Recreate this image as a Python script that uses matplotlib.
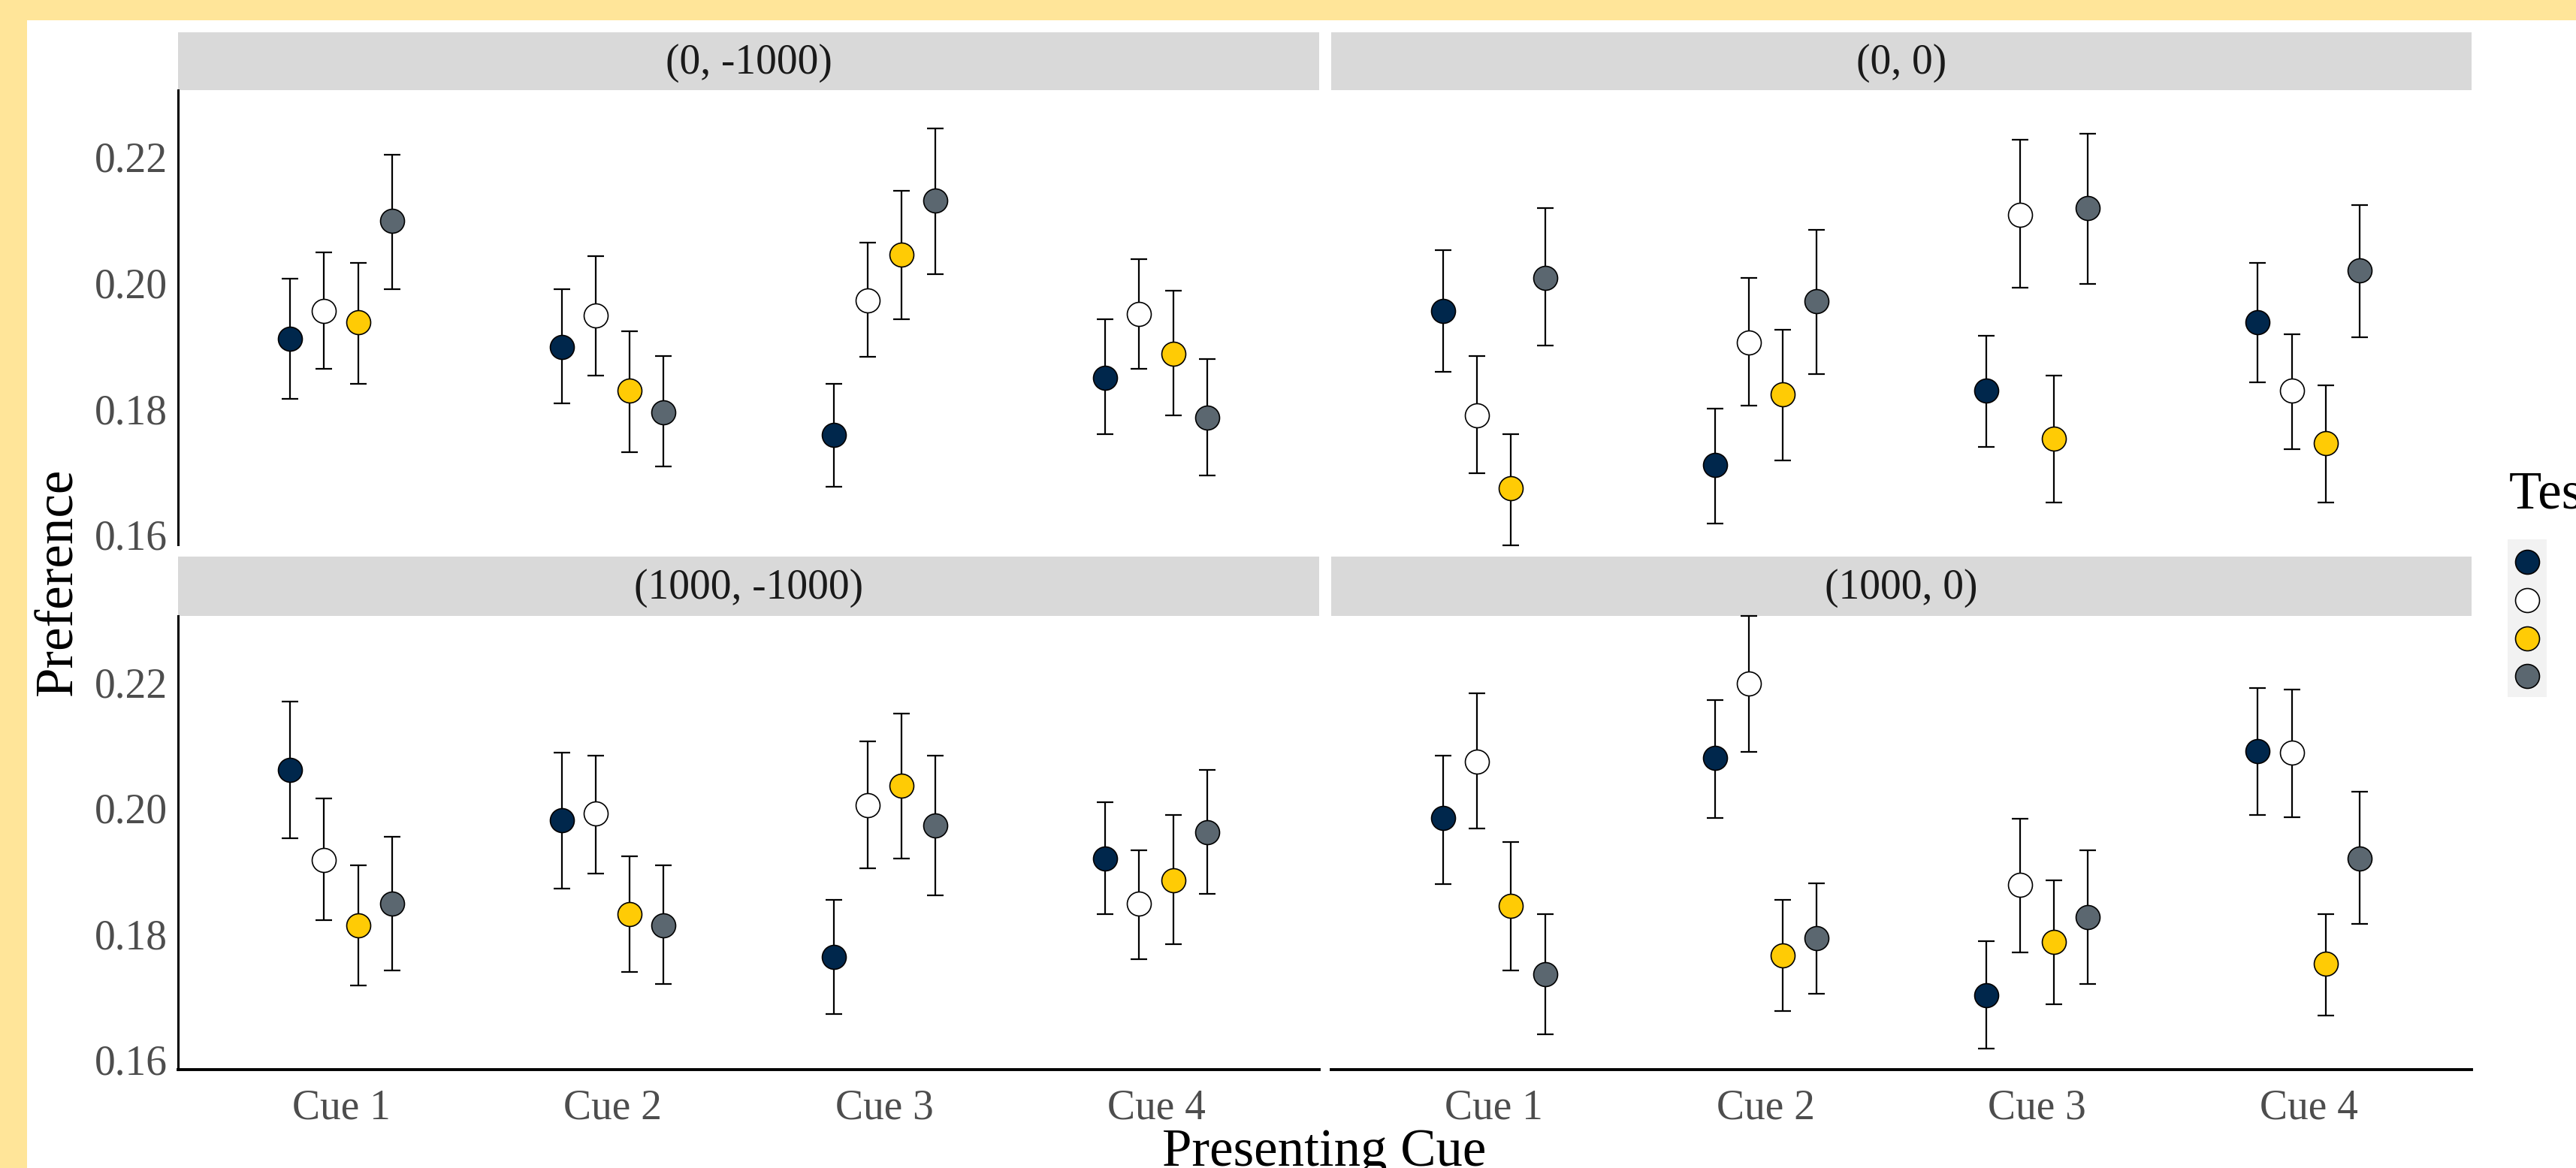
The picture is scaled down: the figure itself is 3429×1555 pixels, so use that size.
"""Preference by presenting cue, faceted by offset condition, coloured by test cue."""
import matplotlib
matplotlib.use("Agg")
import matplotlib.pyplot as plt
from matplotlib.patches import Rectangle
import numpy as np

# ---------------------------------------------------------------------------
# Data (rows = test cue 1..4, columns = presenting cue 1..4)
# ---------------------------------------------------------------------------
presenting_cues = ["Cue 1", "Cue 2", "Cue 3", "Cue 4"]
test_cues = ["1", "2", "3", "4"]
panel_titles = ["(0, -1000)", "(0, 0)", "(1000, -1000)", "(1000, 0)"]

mean_0_m1000 = [[0.1911, 0.1898, 0.1758, 0.1849],
                [0.1955, 0.1948, 0.1972, 0.1950],
                [0.1937, 0.1829, 0.2045, 0.1887],
                [0.2098, 0.1794, 0.2130, 0.1786]]
lo_0_m1000 = [[0.1815, 0.1808, 0.1676, 0.1760],
              [0.1863, 0.1853, 0.1882, 0.1863],
              [0.1839, 0.1731, 0.1942, 0.1789],
              [0.1990, 0.1708, 0.2014, 0.1694]]
hi_0_m1000 = [[0.2006, 0.1990, 0.1839, 0.1942],
              [0.2048, 0.2042, 0.2064, 0.2037],
              [0.2032, 0.1923, 0.2146, 0.1987],
              [0.2203, 0.1884, 0.2245, 0.1879]]

mean_0_0 = [[0.1955, 0.1710, 0.1829, 0.1937],
            [0.1789, 0.1905, 0.2108, 0.1829],
            [0.1673, 0.1823, 0.1752, 0.1745],
            [0.2008, 0.1971, 0.2119, 0.2019]]
lo_0_0 = [[0.1858, 0.1617, 0.1739, 0.1842],
          [0.1697, 0.1805, 0.1992, 0.1736],
          [0.1583, 0.1718, 0.1651, 0.1651],
          [0.1900, 0.1855, 0.1998, 0.1913]]
hi_0_0 = [[0.2052, 0.1800, 0.1916, 0.2032],
          [0.1884, 0.2008, 0.2227, 0.1918],
          [0.1760, 0.1925, 0.1853, 0.1837],
          [0.2119, 0.2084, 0.2237, 0.2124]]

mean_1000_m1000 = [[0.2061, 0.1981, 0.1763, 0.1920],
                   [0.1917, 0.1992, 0.2005, 0.1848],
                   [0.1813, 0.1832, 0.2036, 0.1885],
                   [0.1848, 0.1813, 0.1973, 0.1962]]
lo_1000_m1000 = [[0.1952, 0.1872, 0.1672, 0.1832],
                 [0.1822, 0.1896, 0.1904, 0.1760],
                 [0.1718, 0.1739, 0.1920, 0.1784],
                 [0.1742, 0.1720, 0.1861, 0.1864]]
hi_1000_m1000 = [[0.2170, 0.2088, 0.1854, 0.2010],
                 [0.2016, 0.2084, 0.2106, 0.1933],
                 [0.1909, 0.1923, 0.2151, 0.1989],
                 [0.1954, 0.1909, 0.2084, 0.2061]]

mean_1000_0 = [[0.1984, 0.2080, 0.1702, 0.2091],
               [0.2074, 0.2199, 0.1878, 0.2088],
               [0.1845, 0.1766, 0.1787, 0.1752],
               [0.1736, 0.1793, 0.1827, 0.1920]]
lo_1000_0 = [[0.1879, 0.1984, 0.1617, 0.1989],
             [0.1968, 0.2090, 0.1771, 0.1986],
             [0.1742, 0.1677, 0.1688, 0.1670],
             [0.1640, 0.1705, 0.1720, 0.1816]]
hi_1000_0 = [[0.2084, 0.2172, 0.1789, 0.2191],
             [0.2183, 0.2306, 0.1983, 0.2189],
             [0.1946, 0.1854, 0.1885, 0.1832],
             [0.1832, 0.1880, 0.1933, 0.2026]]

panels = [
    (mean_0_m1000, lo_0_m1000, hi_0_m1000),
    (mean_0_0, lo_0_0, hi_0_0),
    (mean_1000_m1000, lo_1000_m1000, hi_1000_m1000),
    (mean_1000_0, lo_1000_0, hi_1000_0),
]

# ---------------------------------------------------------------------------
# Style
# ---------------------------------------------------------------------------
_COLORS = ["#00274C", "#FFFFFF", "#FFCB05", "#5B6770"]
_FRAME = "#FFE599"
_STRIP = "#D9D9D9"
_TICK_GREY = "#4D4D4D"
_DODGE = 0.5

W, H, DPI = 3429, 1555, 200

plt.rcParams["font.family"] = ["Liberation Serif", "DejaVu Serif"]


def px_box(x0, y0, x1, y1):
    """Pixel box (top-left origin) -> figure fraction [l, b, w, h]."""
    return [x0 / W, 1 - y1 / H, (x1 - x0) / W, (y1 - y0) / H]


fig = plt.figure(figsize=(W / DPI, H / DPI), dpi=DPI, facecolor=_FRAME)
fig.patches.append(Rectangle((36 / W, 0), 1, 1 - 27 / H, transform=fig.transFigure,
                             facecolor="white", edgecolor="none", zorder=-10))

col_x = [(237, 1756), (1772, 3290)]
row_y = [(43, 120, 725), (741, 820, 1424)]
n_series = len(test_cues)
offsets = (np.arange(n_series) - (n_series - 1) / 2) * _DODGE / n_series
xpos = np.arange(1, len(presenting_cues) + 1)

for idx, (means, lows, highs) in enumerate(panels):
    r, c = divmod(idx, 2)
    x0, x1 = col_x[c]
    s_top, p_top, p_bot = row_y[r]

    # strip
    sax = fig.add_axes(px_box(x0, s_top, x1, p_top))
    sax.set_facecolor(_STRIP)
    sax.set_xticks([])
    sax.set_yticks([])
    for sp in sax.spines.values():
        sp.set_visible(False)
    sax.text(0.5, 0.47, panel_titles[idx], transform=sax.transAxes, ha="center",
             va="center", fontsize=20, color="#1A1A1A")

    ax = fig.add_axes(px_box(x0, p_top, x1, p_bot))
    ax.set_facecolor("none")
    for k in range(n_series):
        m = np.array(means[k])
        lo = np.array(lows[k])
        hi = np.array(highs[k])
        ax.errorbar(xpos + offsets[k], m, yerr=[m - lo, hi - m], fmt="none",
                    ecolor="black", elinewidth=0.8, capsize=4.1, capthick=0.8,
                    zorder=2, clip_on=False)
        ax.plot(xpos + offsets[k], m, linestyle="none", marker="o", markersize=11.5,
                markerfacecolor=_COLORS[k], markeredgecolor="black",
                markeredgewidth=0.6, zorder=3, clip_on=False)

    ax.set_xlim(0.4, 4.6)
    ax.set_ylim(0.1584, 0.2306)
    ax.set_yticks([0.16, 0.18, 0.20, 0.22])
    ax.set_yticklabels(["0.16", "0.18", "0.20", "0.22"])
    ax.set_xticks(xpos)
    ax.set_xticklabels(presenting_cues)
    ax.tick_params(length=0, labelsize=20, labelcolor=_TICK_GREY)
    ax.tick_params(axis="y", pad=5)
    ax.tick_params(axis="x", pad=9)
    for sp in ("top", "right"):
        ax.spines[sp].set_visible(False)
    ax.spines["left"].set_linewidth(1.1)
    ax.spines["bottom"].set_linewidth(1.4)
    if c == 1:
        ax.spines["left"].set_visible(False)
        ax.tick_params(axis="y", labelleft=False)
    if r == 0:
        ax.spines["bottom"].set_visible(False)
        ax.tick_params(axis="x", labelbottom=False)

# axis titles
fig.text(78 / W, 1 - 774 / H, "Preference", rotation=90, ha="center", va="center",
         fontsize=25.5, color="black")
fig.text(1763 / W, 1 - 1552 / H, "Presenting Cue", ha="center", va="baseline",
         fontsize=25.5, color="black")

# legend (clipped at the right edge, as in the source image)
fig.text(3340 / W, 1 - 677 / H, "Test Cue", ha="left", va="baseline",
         fontsize=25.5, color="black")
lax = fig.add_axes(px_box(3338, 718, 3390, 928))
lax.set_facecolor("#F2F2F2")
for sp in lax.spines.values():
    sp.set_visible(False)
lax.set_xticks([])
lax.set_yticks([])
lax.set_xlim(0, 1)
lax.set_ylim(n_series - 0.45, -0.6)
for k in range(n_series):
    lax.plot(0.5, k, linestyle="none", marker="o", markersize=11.5,
             markerfacecolor=_COLORS[k], markeredgecolor="black", markeredgewidth=0.6)
    fig.text(3428 / W, 1 - (746 + 52 * k) / H, test_cues[k], ha="left", va="center",
             fontsize=20, color="black")

fig.savefig("out.png", dpi=DPI, facecolor=_FRAME)
